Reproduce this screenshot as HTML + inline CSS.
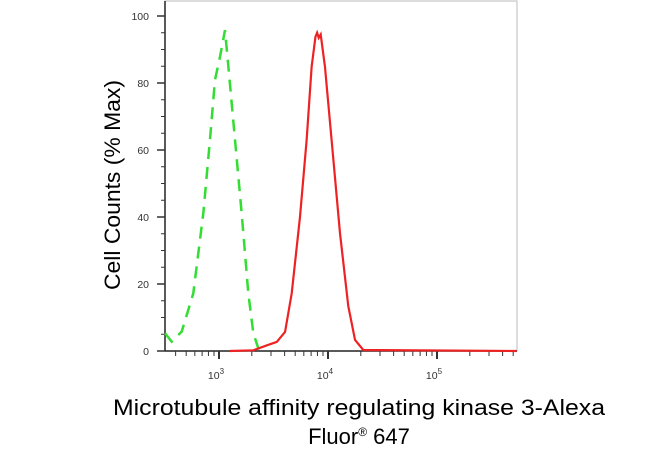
<!DOCTYPE html>
<html><head><meta charset="utf-8"><style>
body{margin:0;background:#fff;}
svg{display:block;font-family:"Liberation Sans",Arial,sans-serif;}
</style></head><body>
<svg width="650" height="450" viewBox="0 0 650 450">
<g id="axes"></g>
<g id="series"></g>
<text x="120" y="185" transform="rotate(-90 120 185)" text-anchor="middle" font-size="22" textLength="210" lengthAdjust="spacingAndGlyphs" fill="#000">Cell Counts (% Max)</text>
<text x="359" y="415" text-anchor="middle" font-size="22" textLength="492" lengthAdjust="spacingAndGlyphs" fill="#000">Microtubule affinity regulating kinase 3-Alexa</text>
<text x="359" y="444" text-anchor="middle" font-size="22" fill="#000">Fluor<tspan font-size="12" dy="-8">®</tspan><tspan dy="8"> 647</tspan></text>
</svg>
<script>
const yTicks=[0,20,40,60,80,100];
const xDecades=[3,4,5];
const greenLog=[2.505,2.566,2.658,2.764,2.856,2.917,2.963,3.009,3.055,3.086,3.147,3.208,3.269,3.315,3.361,3.437];
const greenVal=[5.3,2.8,5.8,17.2,41.1,63,80.9,87.8,95.8,84.9,63,41.1,17.2,5.3,0.8,0];
const redLog=[3.10,3.315,3.44,3.53,3.606,3.667,3.743,3.804,3.85,3.885,3.90,3.915,3.933,3.972,4.033,4.11,4.186,4.248,4.324,5.73];
const redVal=[0,0.2,1.7,2.7,5.7,17.2,40,63,84.9,93.8,95,93.5,94.5,84.9,63,35.2,13.4,3.3,0.3,0];
const L=165,R=517,T=1,B=351;
const xs=v=>219+(v-3)*109;
const ys=v=>351-v*3.35;
const NS="http://www.w3.org/2000/svg";
function mk(tag,attrs,parent){const e=document.createElementNS(NS,tag);for(const k in attrs)e.setAttribute(k,attrs[k]);parent.appendChild(e);return e;}
const ax=document.getElementById('axes');
const frame=mk('rect',{x:L,y:T,width:R-L,height:B-T,fill:'none',stroke:'#bbb','stroke-width':1},ax);


const yl=mk('line',{x1:L,y1:T,x2:L,y2:B,stroke:'#222','stroke-width':1.5},ax);


const xl=mk('line',{x1:L,y1:B,x2:R,y2:B,stroke:'#222','stroke-width':1.5},ax);


for(let v=0;v<=100;v+=5){
  const major=yTicks.includes(v);
  mk('line',{x1:L-(major?8:4),y1:ys(v),x2:L,y2:ys(v),stroke:'#333','stroke-width':major?1.5:1},ax);
}
yTicks.forEach(v=>{
  const t=mk('text',{x:L-16,y:ys(v)+4,'text-anchor':'end','font-size':10.5,fill:'#333'},ax);
  t.textContent=v;
  
  
});
for(let d=2;d<=5;d++){for(let m=1;m<10;m++){
  const lv=d+Math.log10(m);const x=xs(lv);
  if(x<L||x>R)continue;
  mk('line',{x1:x,y1:B,x2:x,y2:B+(m===1?8:5),stroke:'#333','stroke-width':m===1?2:1},ax);
}}
xDecades.forEach(d=>{
  const t=mk('text',{x:xs(d)-3,y:B+28,'text-anchor':'middle','font-size':10.5,fill:'#333'},ax);
  t.innerHTML='10<tspan font-size="8" dy="-5">'+d+'</tspan>';
  
  
});
const sg=document.getElementById('series');
const gp=mk('polyline',{points:greenLog.map((l,i)=>xs(l)+','+ys(greenVal[i])).join(' '),fill:'none',stroke:'#33dd33','stroke-width':2.5,'stroke-dasharray':'12,8'},sg);


const rp=mk('polyline',{points:redLog.map((l,i)=>xs(l)+','+ys(redVal[i])).join(' '),fill:'none',stroke:'#ee2222','stroke-width':2.2},sg);


</script>
</body></html>
